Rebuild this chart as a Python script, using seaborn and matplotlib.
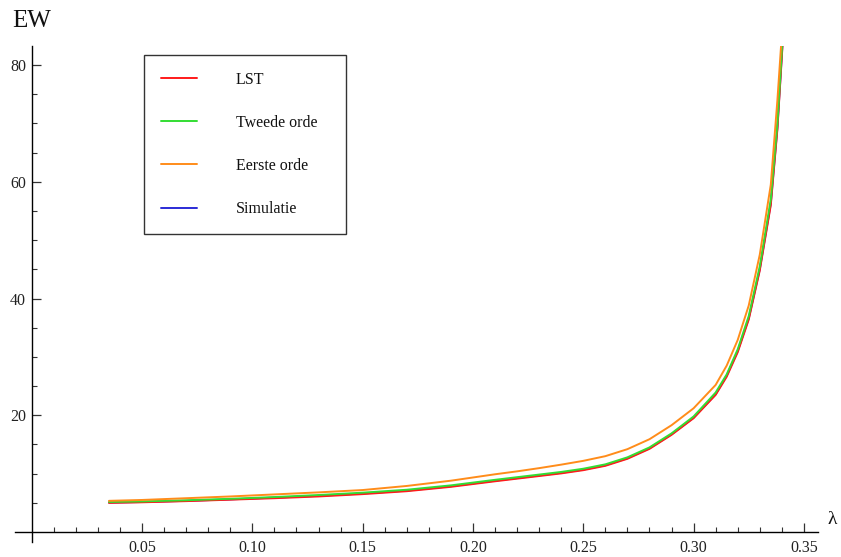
import numpy as np
import pandas as pd
import matplotlib
matplotlib.use("Agg")
import matplotlib.pyplot as plt
import seaborn as sns

# ---- data ----
lam = [0.035, 0.05, 0.07, 0.09, 0.11, 0.13, 0.15, 0.17, 0.19, 0.21, 0.22, 0.23,
       0.24, 0.25, 0.26, 0.27, 0.28, 0.29, 0.30, 0.31, 0.315, 0.32, 0.325, 0.33,
       0.335, 0.338, 0.3405]
ew_lst = [5.0, 5.1, 5.3, 5.55, 5.8, 6.1, 6.5, 7.0, 7.75, 8.7, 9.15, 9.6,
          10.05, 10.6, 11.35, 12.55, 14.25, 16.65, 19.5, 23.5, 26.6, 30.8, 36.4, 44.8,
          56.0, 69.0, 84.5]
ew_tweede = [5.15, 5.25, 5.45, 5.7, 6.0, 6.35, 6.75, 7.25, 8.0, 8.95, 9.4, 9.85,
             10.3, 10.85, 11.6, 12.8, 14.5, 16.9, 19.8, 23.9, 27.0, 31.3, 37.0, 45.5,
             57.0, 70.0, 85.5]
ew_eerste = [5.35, 5.5, 5.8, 6.1, 6.45, 6.8, 7.2, 7.9, 8.8, 9.9, 10.4, 10.95,
             11.55, 12.2, 13.0, 14.2, 15.9, 18.3, 21.2, 25.2, 28.5, 32.9, 38.8, 47.5,
             59.5, 74.0, 88.0]
ew_sim = [5.05, 5.15, 5.35, 5.6, 5.9, 6.2, 6.6, 7.1, 7.85, 8.8, 9.25, 9.7,
          10.15, 10.7, 11.45, 12.65, 14.35, 16.75, 19.6, 23.6, 26.8, 31.0, 36.6, 45.0,
          56.3, 69.3, 84.8]

series_names = ["LST", "Tweede orde", "Eerste orde", "Simulatie"]
series_vals = [ew_lst, ew_tweede, ew_eerste, ew_sim]
series_colors = ["#ff1a1a", "#33dd33", "#ff8c1a", "#2b2bd6"]
draw_z = [2, 3, 4, 1]

x_major = [0.05, 0.10, 0.15, 0.20, 0.25, 0.30, 0.35]
x_major_labels = ["0.05", "0.10", "0.15", "0.20", "0.25", "0.30", "0.35"]
y_major = [20, 40, 60, 80]
y_major_labels = ["20", "40", "60", "80"]

sns.set_style("white")
plt.rcParams["font.family"] = ["Liberation Serif", "DejaVu Serif"]

fig = plt.figure(figsize=(8.41, 5.57), dpi=100)
ax = fig.add_axes([15 / 841, 15 / 557, (818 - 15) / 841, (542 - 45.7) / 557])

df = pd.DataFrame({
    "lam": np.tile(lam, len(series_names)),
    "EW": np.concatenate(series_vals),
    "serie": np.repeat(series_names, len(lam)),
})

handles = {}
for name, col, z in zip(series_names, series_colors, draw_z):
    sub = df[df["serie"] == name]
    sns.lineplot(data=sub, x="lam", y="EW", color=col, lw=1.4, ax=ax,
                 zorder=z, label=name, legend=False, sort=False)
    handles[name] = ax.lines[-1]

ax.set_xlim(-0.0076, 0.3564)
ax.set_ylim(-1.7, 83.3)

# Mathematica-style axes through the origin
for s in ["top", "right"]:
    ax.spines[s].set_visible(False)
ax.spines["left"].set_position(("data", 0))
ax.spines["bottom"].set_position(("data", 0))
for s in ["left", "bottom"]:
    ax.spines[s].set_color("black")
    ax.spines[s].set_linewidth(1.0)

ax.set_xticks(x_major)
ax.set_xticklabels(x_major_labels)
ax.set_xticks([i / 100 for i in range(1, 36) if i % 5 != 0], minor=True)
ax.set_yticks(y_major)
ax.set_yticklabels(y_major_labels)
ax.set_yticks([v for v in range(5, 84, 5) if v % 20 != 0], minor=True)

ax.tick_params(axis="both", which="both", bottom=True, left=True,
               top=False, right=False)
ax.tick_params(axis="both", which="major", direction="in", length=6.5,
               width=0.9, color="#333333", labelsize=11.5, labelcolor="#222222")
ax.tick_params(axis="both", which="minor", direction="in", length=3.6,
               width=0.8, color="#333333")
ax.tick_params(axis="x", which="major", pad=6.0)
ax.tick_params(axis="y", which="major", pad=4.0)
ax.set_xlabel("")
ax.set_ylabel("")
ax.grid(False)

fig.text(12 / 841, 1 - 27 / 557, "EW", fontsize=18, ha="left",
         va="baseline", color="#111111")
fig.text(832 / 841, 1 - 520 / 557, "λ", fontsize=14, ha="center",
         va="center", color="#111111")

leg = ax.legend([handles[n] for n in series_names], series_names,
                loc="upper left",
                bbox_to_anchor=(144 / 841, 1 - 234 / 557, (346 - 144) / 841, (234 - 55) / 557),
                bbox_transform=fig.transFigure, mode="expand",
                fontsize=11.5, frameon=True, fancybox=False, shadow=False,
                handlelength=2.25, handletextpad=2.45, borderpad=1.05,
                labelspacing=1.7, borderaxespad=0)
leg.get_frame().set_edgecolor("black")
leg.get_frame().set_linewidth(1.0)
for t in leg.get_texts():
    t.set_color("#111111")

fig.savefig("out.png", dpi=100)
